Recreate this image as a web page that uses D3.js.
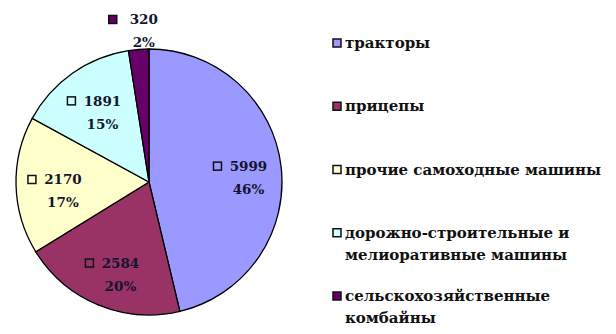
<!DOCTYPE html>
<html>
<head>
<meta charset="utf-8">
<script src="https://cdn.jsdelivr.net/npm/d3@7"></script>
<style>
  body { margin: 0; background: #fff; }
</style>
</head>
<body>
<div id="chart"></div>
<script>
const w = 616, h = 334;
const font = "DejaVu Serif, serif";

// data
const categories = ['тракторы', 'прицепы', 'прочие самоходные машины',
  'дорожно-строительные и мелиоративные машины', 'сельскохозяйственные комбайны'];
const legendLines = [['тракторы'], ['прицепы'], ['прочие самоходные машины'],
  ['дорожно-строительные и', 'мелиоративные машины'], ['сельскохозяйственные', 'комбайны']];
const values = [5999, 2584, 2170, 1891, 320];
const percents = ['46%', '20%', '17%', '15%', '2%'];
const colors = ['#9999ff', '#993366', '#ffffcc', '#ccffff', '#660066'];

const svg = d3.select('#chart').append('svg').attr('width', w).attr('height', h)
  .style('font-family', font).style('font-weight', 'bold');

const cx = 149, cy = 182, r = 133;
const data = categories.map((c, i) => ({name: c, value: values[i], pct: percents[i], color: colors[i], lines: legendLines[i]}));

const pie = d3.pie().value(d => d.value).sort(null);
const arcs = pie(data);
const arc = d3.arc().innerRadius(0).outerRadius(r);
const labelArc = d3.arc().innerRadius(r * 0.7).outerRadius(r * 0.7);
const outerArc = d3.arc().innerRadius(r + 25).outerRadius(r + 25);

const g = svg.append('g').attr('transform', `translate(${cx},${cy})`);

g.selectAll('path.slice')
  .data(arcs)
  .join('path')
  .attr('class', 'slice')
  .attr('d', arc)
  .attr('fill', d => d.data.color)
  .attr('stroke', '#000')
  .attr('stroke-width', 1.3);

// data labels: key square + value, percent below
const fs = 13.5, lineH = 23;
const labels = g.selectAll('g.label')
  .data(arcs)
  .join('g')
  .attr('class', 'label')
  .attr('transform', d => {
    const small = (d.endAngle - d.startAngle) < 0.35;
    const [x, y] = small ? outerArc.centroid(d) : labelArc.centroid(d);
    return `translate(${x - 2},${y + 4})`;
  });

labels.append('text')
  .attr('x', 9)
  .attr('y', -4)
  .attr('text-anchor', 'middle')
  .attr('font-size', fs)
  .attr('fill', '#14142e')
  .text(d => d.data.value);

labels.append('text')
  .attr('x', 9)
  .attr('y', -4 + lineH)
  .attr('text-anchor', 'middle')
  .attr('font-size', fs)
  .attr('fill', '#14142e')
  .text(d => d.data.pct);

labels.append('rect')
  .attr('x', -26)
  .attr('y', -13)
  .attr('width', 8)
  .attr('height', 8)
  .attr('fill', d => d.data.color)
  .attr('stroke', '#111')
  .attr('stroke-width', 1.5);

// legend
const legY = d3.scalePoint().domain(categories).range([43, 296]);
const leg = svg.selectAll('g.leg')
  .data(data)
  .join('g')
  .attr('class', 'leg')
  .attr('transform', d => `translate(333,${legY(d.name)})`);

leg.append('rect')
  .attr('x', 0).attr('y', -4)
  .attr('width', 8).attr('height', 8)
  .attr('fill', d => d.color)
  .attr('stroke', '#111')
  .attr('stroke-width', 1.5);

leg.append('text')
  .attr('x', 12)
  .attr('y', 5)
  .attr('font-size', 15)
  .attr('fill', '#111')
  .selectAll('tspan')
  .data(d => d.lines)
  .join('tspan')
  .attr('x', 12)
  .attr('dy', (d, i) => i ? 22 : 0)
  .text(d => d);
</script>
</body>
</html>
